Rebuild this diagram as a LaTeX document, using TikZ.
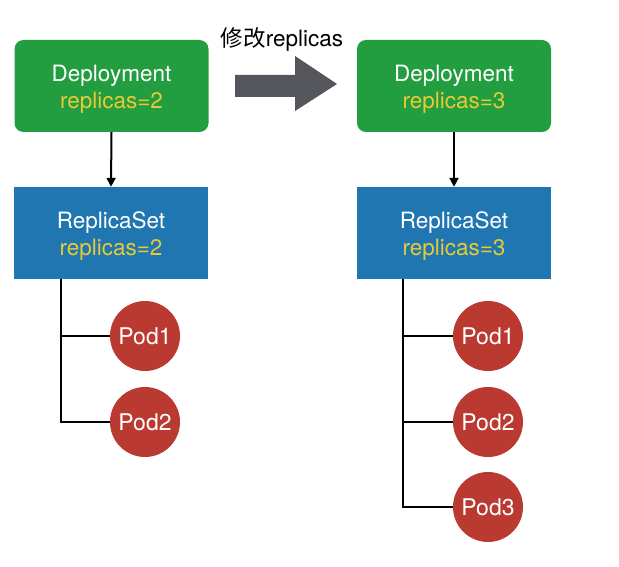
\documentclass[tikz,border=0pt]{standalone}
\usepackage{fontspec}
\setmainfont{TeX Gyre Heros}
\newfontfamily\cjk{Noto Sans CJK SC}
\usetikzlibrary{arrows.meta}
\definecolor{depgreen}{RGB}{34,158,64}
\definecolor{rsblue}{RGB}{31,118,176}
\definecolor{podred}{RGB}{186,58,50}
\definecolor{repyellow}{RGB}{232,202,52}
\definecolor{arrgray}{RGB}{84,86,92}
\tikzset{
  boxbase/.style={minimum width=194pt, minimum height=92pt, inner sep=0pt},
  depbox/.style={boxbase, fill=depgreen, rounded corners=9pt},
  rsbox/.style={boxbase, fill=rsblue},
  boxtext/.style={inner sep=0pt, align=center, text=white, font=\fontsize{22.5}{27}\selectfont},
  pod/.style={circle, fill=podred, minimum size=70pt, inner sep=0pt, text=white,
    font=\fontsize{23}{26}\selectfont},
  link/.style={line width=2pt, black},
  arr/.style={link, -{Triangle[length=9pt,width=9pt]}},
}
\begin{document}
\begin{tikzpicture}[x=1pt,y=-1pt]
\useasboundingbox (0,0) rectangle (619,567);
% left side
\node[depbox] (dep1) at (111.5,86) {};
\node[boxtext] (dep1t) at ([yshift=-3pt]dep1.center) {Deployment\\\textcolor{repyellow}{replicas=2}};
\node[rsbox] (rs1) at (111,233) {};
\node[boxtext] (rs1t) at ([yshift=-3pt]rs1.center) {ReplicaSet\\\textcolor{repyellow}{replicas=2}};
\node[pod] (p11) at (145,336) {Pod1};
\node[pod] (p12) at (145,422) {Pod2};
\draw[arr] (dep1.south) -- (rs1.north);
\coordinate (b1) at (61,422);
\draw[link] (b1 |- rs1.south) -- (b1) -- (p12.west);
\draw[link] (b1 |- p11) -- (p11.west);
% right side
\node[depbox] (dep2) at (454,86) {};
\node[boxtext] (dep2t) at ([yshift=-3pt]dep2.center) {Deployment\\\textcolor{repyellow}{replicas=3}};
\node[rsbox] (rs2) at (454,233) {};
\node[boxtext] (rs2t) at ([yshift=-3pt]rs2.center) {ReplicaSet\\\textcolor{repyellow}{replicas=3}};
\node[pod] (p21) at (488,336) {Pod1};
\node[pod] (p22) at (488,422) {Pod2};
\node[pod] (p23) at (488,507) {Pod3};
\draw[arr] (dep2.south) -- (rs2.north);
\coordinate (b2) at (403,507);
\draw[link] (b2 |- rs2.south) -- (b2) -- (p23.west);
\draw[link] (b2 |- p21) -- (p21.west);
\draw[link] (b2 |- p22) -- (p22.west);
% big arrow
\fill[arrgray] (235,75) -- (295,75) -- (295,56) -- (337,84) -- (295,111) -- (295,97) -- (235,97) -- cycle;
\node[font=\fontsize{22.5}{26}\selectfont, inner sep=0pt] (lbl) at (282,39) {{\cjk 修改}replicas};
\end{tikzpicture}
\end{document}
